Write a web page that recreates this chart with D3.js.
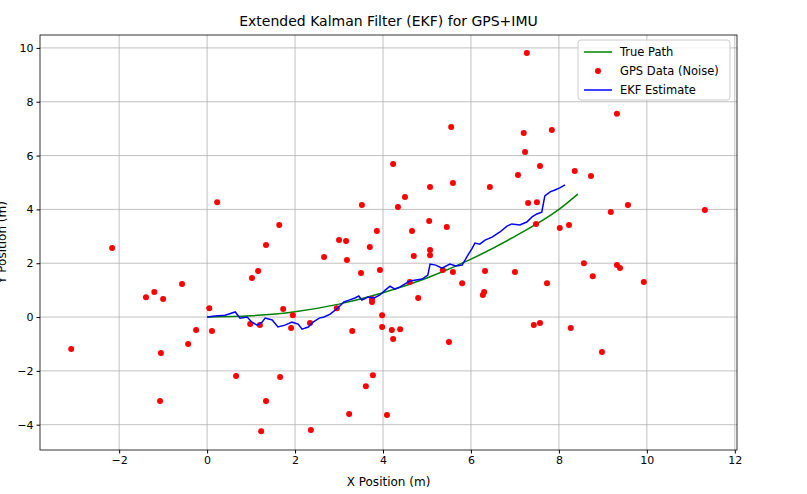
<!DOCTYPE html>
<html><head><meta charset="utf-8">
<script src="https://cdn.jsdelivr.net/npm/d3@7"></script>
<style>body{margin:0;background:#fff}text{font-family:"DejaVu Sans",sans-serif}</style>
</head><body><svg id="c" width="807" height="494"></svg>
<script>
const truePath = [[0,0],[1,0.05],[2,0.2],[3,0.48],[4,0.9],[5,1.45],[6,2.15],[7,3.0],[8,4.0],[8.43,4.57]];
const gpsX = [-3.09,-2.16,-1.39,-1.2,-1.0,-1.05,-1.07,-0.57,-0.43,-0.25,0.05,0.11,0.23,0.66,0.98,1.02,1.16,1.2,1.34,1.34,1.23,1.64,1.66,1.73,1.91,1.95,2.34,2.36,2.66,2.95,3.0,3.16,3.18,3.23,3.3,3.52,3.5,3.61,3.7,3.75,3.77,3.75,3.86,3.93,3.98,3.98,4.09,4.23,4.2,4.23,4.34,4.39,4.5,4.61,4.66,4.7,4.8,5.05,5.07,5.07,5.07,5.36,5.45,5.5,5.55,5.59,5.59,5.8,6.27,6.3,6.32,6.43,7.0,7.07,7.2,7.23,7.27,7.3,7.43,7.48,7.5,7.57,7.57,7.73,7.84,8.02,8.23,8.27,8.36,8.57,8.73,8.77,8.98,9.18,9.32,9.32,9.39,9.57,9.93,11.32];
const gpsY = [-1.19,2.57,0.74,0.93,0.67,-1.34,-3.12,1.23,-1.0,-0.48,0.33,-0.52,4.27,-2.19,-0.26,1.45,1.71,-0.3,2.68,-3.12,-4.24,3.42,-2.23,0.3,-0.41,0.07,-0.22,-4.2,2.23,0.33,2.86,2.83,2.12,-3.6,-0.52,4.16,1.64,-2.57,2.6,0.67,-2.16,0.56,3.2,1.75,0.07,-0.37,-3.64,5.69,-0.48,-0.82,4.09,-0.45,4.46,1.3,3.2,2.27,0.71,3.57,4.83,2.3,2.49,1.75,3.35,-0.93,7.06,4.98,1.67,1.26,0.82,0.93,1.71,4.83,1.67,5.28,6.84,6.13,9.81,4.24,-0.3,3.46,4.27,-0.22,5.61,1.26,6.95,3.31,3.42,-0.41,5.43,2.0,5.24,1.52,-1.3,3.9,7.55,1.93,1.82,4.16,1.3,3.98];
const ekf = [[0,0],[0.18,0.04],[0.41,0.07],[0.64,0.19],[0.75,-0.04],[0.91,0],[1.02,-0.19],[1.14,-0.3],[1.25,-0.19],[1.32,-0.04],[1.48,-0.11],[1.61,-0.37],[1.77,-0.3],[1.93,-0.19],[2.07,-0.26],[2.16,-0.45],[2.3,-0.37],[2.41,-0.19],[2.55,-0.04],[2.66,0],[2.8,0.11],[2.91,0.26],[3.02,0.41],[3.11,0.56],[3.23,0.63],[3.36,0.71],[3.45,0.78],[3.52,0.63],[3.66,0.74],[3.8,0.71],[3.93,0.82],[4.05,1.0],[4.16,1.15],[4.27,1.04],[4.39,1.12],[4.5,1.23],[4.61,1.34],[4.75,1.38],[4.89,1.41],[5.02,1.56],[5.07,1.97],[5.2,1.93],[5.34,1.82],[5.52,1.97],[5.66,1.9],[5.8,1.93],[5.93,2.3],[6.02,2.53],[6.09,2.75],[6.2,2.71],[6.32,2.86],[6.48,2.97],[6.66,3.16],[6.82,3.38],[6.93,3.46],[7.11,3.42],[7.27,3.53],[7.39,3.72],[7.5,3.83],[7.61,3.9],[7.68,4.5],[7.8,4.65],[7.91,4.72],[8.02,4.8],[8.14,4.91]];
const xTicks = [-2,0,2,4,6,8,10,12];
const yTicks = [-4,-2,0,2,4,6,8,10];

const m = {l:40,r:70,t:35,b:44}, W=807, H=494;
const svg = d3.select("#c");
const x = d3.scaleLinear().domain([-3.8,12.05]).range([m.l,W-m.r]);
const y = d3.scaleLinear().domain([-4.94,10.48]).range([H-m.b,m.t]);

const g = svg.append("g");
g.selectAll(".gx").data(xTicks).join("line").attr("x1",x).attr("x2",x).attr("y1",m.t).attr("y2",H-m.b).attr("stroke","#b0b0b0").attr("stroke-width",0.8);
g.selectAll(".gy").data(yTicks).join("line").attr("y1",y).attr("y2",y).attr("x1",m.l).attr("x2",W-m.r).attr("stroke","#b0b0b0").attr("stroke-width",0.8);

svg.append("path").datum(truePath).attr("fill","none").attr("stroke","green").attr("stroke-width",1.5)
  .attr("d",d3.line().x(d=>x(d[0])).y(d=>y(d[1])).curve(d3.curveMonotoneX));
svg.selectAll(".gps").data(gpsX).join("circle").attr("cx",d=>x(d)).attr("cy",(d,i)=>y(gpsY[i])).attr("r",3).attr("fill","red");
svg.append("path").datum(ekf).attr("fill","none").attr("stroke","blue").attr("stroke-width",1.5)
  .attr("d",d3.line().x(d=>x(d[0])).y(d=>y(d[1])));

const xa = svg.append("g").attr("transform",`translate(0,${H-m.b})`).call(d3.axisBottom(x).tickValues(xTicks).tickSize(3.5).tickPadding(3));
const ya = svg.append("g").attr("transform",`translate(${m.l},0)`).call(d3.axisLeft(y).tickValues(yTicks).tickSize(3.5).tickPadding(3));
[xa,ya].forEach(a=>{a.select(".domain").remove();a.selectAll("text").attr("font-size",11).attr("fill","#000").attr("font-family","DejaVu Sans");});
svg.append("rect").attr("x",m.l).attr("y",m.t).attr("width",W-m.r-m.l).attr("height",H-m.b-m.t).attr("fill","none").attr("stroke","#000").attr("stroke-width",0.8);

svg.append("text").attr("x",(m.l+W-m.r)/2).attr("y",26).attr("text-anchor","middle").attr("font-size",14).text("Extended Kalman Filter (EKF) for GPS+IMU");
svg.append("text").attr("x",(m.l+W-m.r)/2).attr("y",486).attr("text-anchor","middle").attr("font-size",12).text("X Position (m)");
svg.append("text").attr("transform",`translate(6,${(m.t+H-m.b)/2}) rotate(-90)`).attr("text-anchor","middle").attr("font-size",12).text("Y Position (m)");

const lg = svg.append("g").attr("transform","translate(578,40)");
lg.append("rect").attr("width",152).attr("height",60).attr("rx",3).attr("fill","#fff").attr("fill-opacity",0.8).attr("stroke","#ccc");
const items = [["True Path","green","line"],["GPS Data (Noise)","red","dot"],["EKF Estimate","blue","line"]];
items.forEach((it,i)=>{
  const yy = 12+i*19;
  if(it[2]==="line") lg.append("line").attr("x1",6).attr("x2",34).attr("y1",yy).attr("y2",yy).attr("stroke",it[1]).attr("stroke-width",1.5);
  else lg.append("circle").attr("cx",20).attr("cy",yy).attr("r",3).attr("fill",it[1]);
  lg.append("text").attr("x",42).attr("y",yy+4).attr("font-size",11.5).text(it[0]);
});
</script></body></html>
